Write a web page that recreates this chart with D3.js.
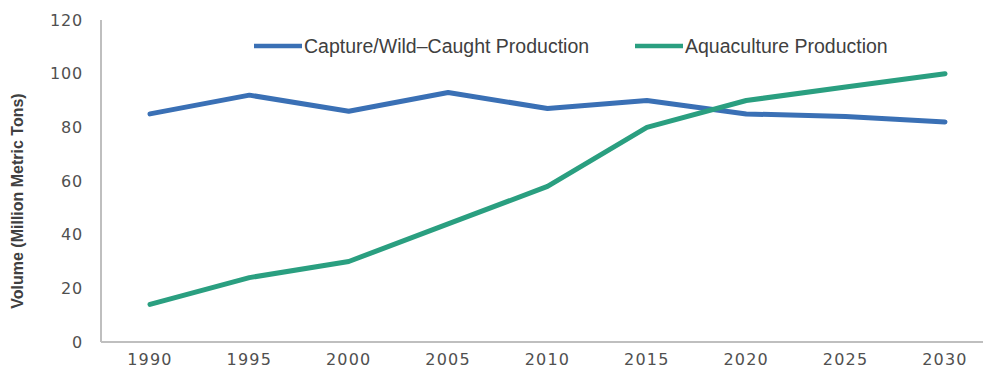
<!DOCTYPE html>
<html>
<head>
<meta charset="utf-8">
<script src="https://cdn.jsdelivr.net/npm/d3@7"></script>
<style>
  body { margin: 0; background: #ffffff; }
</style>
</head>
<body>
<script>
// Fish production by year, million metric tons
var years = ["1990", "1995", "2000", "2005", "2010", "2015", "2020", "2025", "2030"];
var capture = [85, 92, 86, 93, 87, 90, 85, 84, 82];
var aquaculture = [14, 24, 30, 44, 58, 80, 90, 95, 100];
var yTicks = [0, 20, 40, 60, 80, 100, 120];
var seriesNames = ["Capture/Wild\u2013Caught Production", "Aquaculture Production"];
var colors = ["#3a70b5", "#2a9f80"];

var w = 983;
var h = 376;

var svg = d3.select("body").append("svg")
    .attr("width", w)
    .attr("height", h);

var margin = {left: 101, top: 20, bottom: 34};

// point scale: 1990 sits half a step right of the axis
var x = d3.scalePoint()
    .domain(years)
    .range([150, 945]);

var y = d3.scaleLinear()
    .domain([0, 120])
    .range([h - margin.bottom, margin.top]);

var tickFont = "'DejaVu Sans', sans-serif";
var narrowFont = "'Liberation Sans Narrow', 'Liberation Sans', sans-serif";

// y axis tick labels
svg.append("g")
    .selectAll("text")
    .data(yTicks)
    .enter().append("text")
    .attr("x", 83)
    .attr("y", d => y(d))
    .attr("dy", "0.36em")
    .attr("text-anchor", "end")
    .style("font-family", tickFont)
    .style("font-size", "16px")
    .style("letter-spacing", "0.8px")
    .style("fill", "#505050")
    .text(d => d);

// x axis tick labels
svg.append("g")
    .selectAll("text")
    .data(years)
    .enter().append("text")
    .attr("x", d => x(d))
    .attr("y", 365)
    .attr("text-anchor", "middle")
    .style("font-family", tickFont)
    .style("font-size", "16px")
    .style("letter-spacing", "1.2px")
    .style("fill", "#505050")
    .text(d => d);

// axis lines
svg.append("line")
    .attr("x1", margin.left).attr("x2", margin.left)
    .attr("y1", y(120)).attr("y2", y(0))
    .attr("stroke", "#bfbfbf").attr("stroke-width", 2);
svg.append("line")
    .attr("x1", margin.left).attr("x2", w)
    .attr("y1", y(0)).attr("y2", y(0))
    .attr("stroke", "#bfbfbf").attr("stroke-width", 2);

// y axis title
svg.append("text")
    .attr("transform", "translate(23," + ((y(0) + y(120)) / 2 + 20) + ") rotate(-90)")
    .attr("text-anchor", "middle")
    .style("font-family", narrowFont)
    .style("font-size", "16px")
    .style("font-weight", "bold")
    .style("fill", "#404040")
    .text("Volume (Million Metric Tons)");

var line = d3.line()
    .x((d, i) => x(years[i]))
    .y(d => y(d));

[capture, aquaculture].forEach(function(values, i) {
    svg.append("path")
        .datum(values)
        .attr("d", line)
        .attr("fill", "none")
        .attr("stroke", colors[i])
        .attr("stroke-width", 5)
        .attr("stroke-linejoin", "round")
        .attr("stroke-linecap", "round");
});

// legend
var legendX = [254, 635];
var legend = svg.append("g")
    .selectAll("g")
    .data(seriesNames)
    .enter().append("g")
    .attr("transform", (d, i) => "translate(" + legendX[i] + ",46)");

legend.append("line")
    .attr("x1", 0).attr("x2", 48)
    .attr("stroke", (d, i) => colors[i])
    .attr("stroke-width", 4.5);

legend.append("text")
    .attr("x", 50)
    .attr("dy", "0.36em")
    .style("font-family", narrowFont)
    .style("font-size", "19.5px")
    .style("fill", "#404040")
    .text(d => d);
</script>
</body>
</html>
